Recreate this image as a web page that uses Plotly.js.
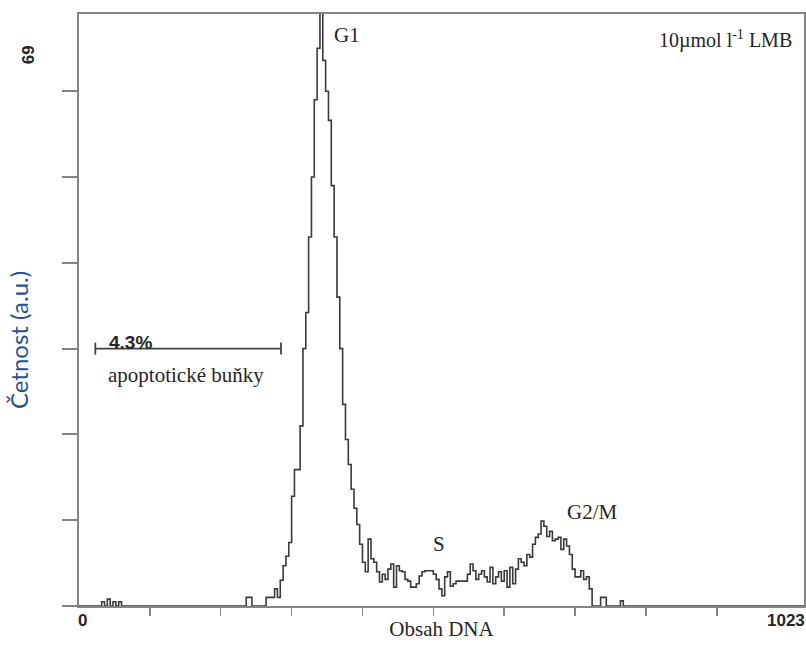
<!DOCTYPE html>
<html>
<head>
<meta charset="utf-8">
<script src="https://cdn.plot.ly/plotly-3.0.1.min.js"></script>
<style>html,body{margin:0;padding:0;background:#fff;}#chart{width:806px;height:646px;}</style>
</head>
<body>
<div id="chart"></div>
<script>
// DNA content histogram (channel bin start, 4-channel bins) and counts
const channels = [0, 32, 36, 40, 44, 48, 52, 56, 60, 236, 240, 244, 264, 268, 272, 276, 280, 284, 288, 292, 296, 300, 304, 308, 312, 316, 320, 324, 328, 332, 336, 340, 344, 348, 352, 356, 360, 364, 368, 372, 376, 380, 384, 388, 392, 396, 400, 404, 408, 412, 416, 420, 424, 428, 432, 436, 440, 444, 448, 452, 456, 460, 464, 468, 472, 476, 480, 484, 488, 492, 496, 500, 504, 508, 512, 516, 520, 524, 528, 532, 536, 540, 544, 548, 552, 556, 560, 564, 568, 572, 576, 580, 584, 588, 592, 596, 600, 604, 608, 612, 616, 620, 624, 628, 632, 636, 640, 644, 648, 652, 656, 660, 664, 668, 672, 676, 680, 684, 688, 692, 696, 700, 704, 708, 712, 716, 720, 724, 736, 744, 764, 768, 1023];
const counts   = [0, 0.5, 0, 0.8, 0, 0.5, 0, 0.5, 0, 1, 1, 0, 1, 1, 1, 2, 1, 3, 4.7, 5.8, 7.4, 12.8, 15.9, 15.9, 21, 30, 34.2, 43, 50, 59, 65, 71, 63.6, 60, 56.6, 49, 43, 36, 30, 23.5, 19.4, 16.5, 13.6, 11.4, 9.5, 7.2, 5.1, 4, 7.8, 5.5, 5.1, 4, 2.8, 3.7, 3.1, 4.3, 4.9, 2.2, 4.7, 4.1, 4, 3.1, 2.9, 2.2, 2.2, 2.6, 3.5, 4, 4.1, 4.1, 4.1, 3.7, 3.1, 2, 1.2, 3.4, 4, 2.3, 2.6, 2.9, 2.9, 2.9, 2.9, 3.7, 4.9, 4.1, 3.1, 3.7, 4.1, 3.4, 2.8, 4.5, 2.6, 3.4, 4, 2.9, 4.1, 2.2, 4.5, 2.6, 4.3, 5.5, 5.1, 4.7, 6, 5.7, 7.2, 8, 8.4, 9.9, 9.3, 8.1, 8.7, 7.6, 7.8, 8, 6.6, 7.8, 7, 6, 4.3, 3.4, 3.4, 4.1, 3.1, 3.4, 2, 0, 1, 0, 0.6, 0, 0];

// axes
const xRange = [0, 1023];
const yRange = [0, 69];
const xTickVals = [100, 200, 300, 400, 500, 600, 700, 800, 900];
const yTickVals = [0, 10, 20, 30, 40, 50, 60];
const xEndLabels = ['0', '1023'];
const yTopLabel = '69';

// apoptotic-cell gate marker
const gateRange = [23, 285];
const gateLevel = 30;
const gateLabel = '4.3%';
const gateText = 'apoptotické buňky';

// phase labels
const phaseNames = ['G1', 'S', 'G2/M'];
const phaseX = [378, 508, 724];
const phaseY = [66.6, 7.2, 10.9];

const serif = '"Liberation Serif", "Times New Roman", serif';
const sans = '"Liberation Sans", Arial, sans-serif';
const frame = '#858585';
const ink = '#262626';

const trace = {
  x: channels, y: counts, type: 'scatter', mode: 'lines',
  line: {shape: 'hv', color: '#3a3a3a', width: 1.6},
  hoverinfo: 'x+y', showlegend: false, cliponaxis: true
};

const annotations = [];
phaseNames.forEach((t, i) => annotations.push({
  x: phaseX[i], y: phaseY[i], xref: 'x', yref: 'y', text: t, showarrow: false,
  font: {family: serif, size: 21, color: ink}
}));
annotations.push({x: 1, y: 1, xref: 'paper', yref: 'paper', xanchor: 'right', yanchor: 'top',
  xshift: -10, yshift: -11, text: '10µmol l<sup>-1</sup> LMB', showarrow: false,
  font: {family: serif, size: 20, color: ink}});
annotations.push({x: 72, y: gateLevel, xref: 'x', yref: 'y', yanchor: 'bottom', yshift: -6,
  text: '<b>' + gateLabel + '</b>', showarrow: false, font: {family: sans, size: 19, color: ink}});
annotations.push({x: 151, y: gateLevel, xref: 'x', yref: 'y', yanchor: 'top', yshift: -12,
  text: gateText, showarrow: false, font: {family: serif, size: 21, color: ink}});
annotations.push({x: xRange[0], y: 0, xref: 'x', yref: 'y', xanchor: 'left', yanchor: 'top', yshift: -3, xshift: -3,
  text: '<b>' + xEndLabels[0] + '</b>', showarrow: false, font: {family: sans, size: 17, color: ink}});
annotations.push({x: xRange[1], y: 0, xref: 'x', yref: 'y', xanchor: 'right', yanchor: 'top', yshift: -3, xshift: 3,
  text: '<b>' + xEndLabels[1] + '</b>', showarrow: false, font: {family: sans, size: 17, color: ink}});
annotations.push({x: 0, y: 64.2, xref: 'paper', yref: 'y', xanchor: 'center', yanchor: 'middle', xshift: -51,
  text: '<b>' + yTopLabel + '</b>', textangle: -90, showarrow: false, font: {family: sans, size: 17, color: ink}});
annotations.push({x: 0, y: 31, xref: 'paper', yref: 'y', xanchor: 'center', yanchor: 'middle', xshift: -61,
  text: 'Četnost (a.u.)', textangle: -90, showarrow: false, font: {family: 'Lato, "Noto Sans", sans-serif', size: 24, color: '#24529f'}});

const shapes = [
  {type: 'line', xref: 'x', yref: 'y', x0: gateRange[0], x1: gateRange[1], y0: gateLevel, y1: gateLevel, line: {color: '#444', width: 1.8}},
  {type: 'line', xref: 'x', yref: 'y', x0: gateRange[0], x1: gateRange[0], y0: gateLevel - 0.7, y1: gateLevel + 0.7, line: {color: '#444', width: 1.8}},
  {type: 'line', xref: 'x', yref: 'y', x0: gateRange[1], x1: gateRange[1], y0: gateLevel - 0.7, y1: gateLevel + 0.7, line: {color: '#444', width: 1.8}}
];

const layout = {
  width: 806, height: 646,
  margin: {l: 79, r: 2, t: 14, b: 40},
  paper_bgcolor: '#fff', plot_bgcolor: '#fff',
  xaxis: {
    range: xRange, showgrid: false, zeroline: false, showline: true, mirror: true,
    linecolor: frame, linewidth: 2, ticks: 'outside', tickvals: xTickVals, ticklen: 8,
    tickwidth: 1.5, tickcolor: frame, showticklabels: false, fixedrange: true,
    title: {text: 'Obsah DNA', standoff: 6, font: {family: serif, size: 21, color: ink}}
  },
  yaxis: {
    range: yRange, showgrid: false, zeroline: false, showline: true, mirror: true,
    linecolor: frame, linewidth: 2, ticks: 'outside', tickvals: yTickVals, ticklen: 15,
    tickwidth: 2, tickcolor: frame, showticklabels: false, fixedrange: true
  },
  annotations: annotations,
  shapes: shapes
};

Plotly.newPlot('chart', [trace], layout, {displayModeBar: false, staticPlot: true});
</script>
</body>
</html>
